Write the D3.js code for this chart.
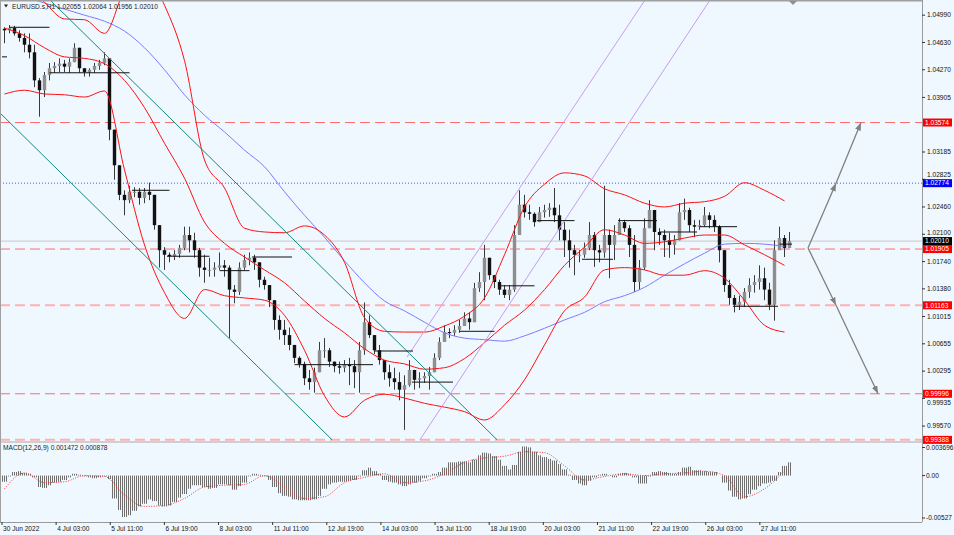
<!DOCTYPE html>
<html>
<head>
<meta charset="utf-8">
<script src="https://cdn.jsdelivr.net/npm/d3@7"></script>
<style>
body { margin: 0; background: #fff; }
</style>
</head>
<body>
<div id="chart"></div>
<script>
// ---- data (EURUSD, bars of ~3 hours) ----
var title = "EURUSD.s,H1  1.02055 1.02064 1.01956 1.02010";
var macdTitle = "MACD(12,26,9) 0.001472 0.000878";

var timeLabels = ["30 Jun 2022","4 Jul 03:00","5 Jul 11:00","6 Jul 19:00","8 Jul 03:00","11 Jul 11:00","12 Jul 19:00",
  "14 Jul 03:00","15 Jul 11:00","18 Jul 19:00","20 Jul 03:00","21 Jul 11:00","22 Jul 19:00","26 Jul 03:00","27 Jul 11:00"];

var priceTicks = [1.0499, 1.0463, 1.0427, 1.03905, 1.03185, 1.02825, 1.0246, 1.021, 1.0174, 1.0138,
  1.01015, 1.00655, 1.00295, 0.99935, 0.9957];
var macdTicks = [0.003696, 0, -0.00527];
var macdTickLabels = ["0.003696", "0.00", "-0.00527"];

var firstOpen = 1.0481;
var highs = [
  1.0483,1.0486,1.0485,1.0479,1.0475,1.0475,1.0460,1.0416,1.0424,1.0436,
  1.0437,1.0442,1.0440,1.0442,1.0462,1.0456,1.0429,1.0429,1.0436,1.0440,
  1.0450,1.0442,1.0348,1.0301,1.0268,1.0274,1.0272,1.0271,1.0271,1.0278,
  1.0262,1.0222,1.0193,1.0186,1.0189,1.0196,1.0220,1.0220,1.0212,1.0192,
  1.0183,1.0179,1.0173,1.0186,1.0176,1.0169,1.0143,1.0173,1.0183,1.0186,
  1.0183,1.0173,1.0154,1.0143,1.0123,1.0103,1.0097,1.0087,1.0064,1.0049,
  1.0042,1.0031,1.0034,1.0068,1.0073,1.0060,1.0042,1.0042,1.0044,1.0047,
  1.0044,1.0068,1.0120,1.0103,1.0077,1.0064,1.0044,1.0038,1.0034,1.0028,
  1.0024,1.0044,1.0031,1.0028,1.0028,1.0035,1.0053,1.0074,1.0090,1.0086,
  1.0090,1.0097,1.0107,1.0107,1.0146,1.0160,1.0196,1.0173,1.0156,1.0150,
  1.0143,1.0143,1.0222,1.0268,1.0262,1.0249,1.0239,1.0246,1.0249,1.0251,
  1.0271,1.0249,1.0226,1.0216,1.0196,1.0189,1.0199,1.0226,1.0213,1.0196,
  1.0274,1.0216,1.0222,1.0231,1.0229,1.0222,1.0209,1.0176,1.0231,1.0255,
  1.0242,1.0218,1.0216,1.0212,1.0209,1.0251,1.0257,1.0245,1.0229,1.0229,
  1.0246,1.0239,1.0235,1.0222,1.0189,1.0150,1.0130,1.0129,1.0139,1.0152,
  1.0156,1.0169,1.0166,1.0146,1.0202,1.0220,1.0209,1.0213];
var lows = [
  1.0462,1.0475,1.0472,1.0464,1.0450,1.0442,1.0404,1.0365,1.0391,1.0413,
  1.0423,1.0424,1.0424,1.0423,1.0437,1.0423,1.0418,1.0418,1.0423,1.0427,
  1.0433,1.0334,1.0282,1.0255,1.0235,1.0251,1.0259,1.0249,1.0251,1.0255,
  1.0216,1.0166,1.0163,1.0173,1.0176,1.0179,1.0189,1.0186,1.0179,1.0154,
  1.0146,1.0154,1.0154,1.0163,1.0154,1.0073,1.0119,1.0130,1.0163,1.0169,
  1.0163,1.0140,1.0137,1.0114,1.0084,1.0071,1.0064,1.0057,1.0040,1.0034,
  1.0011,1.0005,1.0001,1.0028,1.0047,1.0035,1.0028,1.0026,1.0028,1.0011,
  1.0007,1.0001,1.0051,1.0073,1.0052,1.0038,1.0018,1.0009,1.0005,0.9991,
  0.9952,1.0009,1.0005,1.0007,1.0014,1.0005,1.0028,1.0044,1.0073,1.0073,
  1.0076,1.0080,1.0090,1.0084,1.0103,1.0134,1.0123,1.0150,1.0139,1.0130,
  1.0126,1.0123,1.0134,1.0209,1.0232,1.0229,1.0220,1.0226,1.0232,1.0233,
  1.0226,1.0202,1.0180,1.0166,1.0156,1.0173,1.0179,1.0189,1.0167,1.0173,
  1.0179,1.0152,1.0176,1.0209,1.0213,1.0180,1.0134,1.0137,1.0163,1.0218,
  1.0189,1.0196,1.0180,1.0179,1.0183,1.0202,1.0229,1.0213,1.0206,1.0216,
  1.0220,1.0218,1.0213,1.0173,1.0134,1.0117,1.0107,1.0110,1.0114,1.0126,
  1.0133,1.0137,1.0123,1.0110,1.0096,1.0189,1.0180,1.0195];
var closes = [
  1.0479,1.0482,1.0475,1.0469,1.0460,1.0450,1.0413,1.0400,1.0420,1.0429,
  1.0432,1.0435,1.0431,1.0437,1.0456,1.0429,1.0424,1.0427,1.0432,1.0436,
  1.0442,1.0348,1.0301,1.0262,1.0255,1.0266,1.0266,1.0258,1.0266,1.0262,
  1.0222,1.0189,1.0183,1.0181,1.0184,1.0192,1.0209,1.0202,1.0189,1.0166,
  1.0163,1.0163,1.0166,1.0169,1.0166,1.0137,1.0134,1.0166,1.0176,1.0179,
  1.0173,1.0150,1.0143,1.0123,1.0097,1.0084,1.0077,1.0064,1.0047,1.0039,
  1.0020,1.0015,1.0028,1.0057,1.0057,1.0042,1.0036,1.0034,1.0038,1.0036,
  1.0028,1.0057,1.0094,1.0077,1.0057,1.0044,1.0028,1.0020,1.0015,1.0005,
  1.0011,1.0031,1.0018,1.0020,1.0023,1.0028,1.0047,1.0068,1.0081,1.0080,
  1.0084,1.0089,1.0099,1.0094,1.0139,1.0147,1.0179,1.0156,1.0147,1.0137,
  1.0130,1.0137,1.0209,1.0249,1.0239,1.0237,1.0226,1.0239,1.0242,1.0245,
  1.0235,1.0216,1.0202,1.0189,1.0183,1.0183,1.0192,1.0209,1.0189,1.0186,
  1.0209,1.0196,1.0209,1.0226,1.0218,1.0196,1.0147,1.0166,1.0218,1.0242,
  1.0213,1.0209,1.0202,1.0196,1.0202,1.0239,1.0242,1.0222,1.0220,1.0222,
  1.0235,1.0229,1.0220,1.0189,1.0143,1.0126,1.0117,1.0121,1.0134,1.0143,
  1.0147,1.0152,1.0137,1.0117,1.0189,1.0205,1.0192,1.0201];

// indicator lines, one value every 4 bars
var indStep = 4;
var bbUpper = [1.0569,1.0543,1.0516,1.0494,1.0493,1.0475,1.0532,1.0557,1.0512,1.0439,
  1.0308,1.0271,1.0218,1.0213,1.0212,1.0221,1.0209,1.0173,1.0100,1.0082,
  1.0081,1.0081,1.0089,1.0102,1.0126,1.0183,1.0246,1.0276,1.0291,1.0287,
  1.0270,1.0262,1.0251,1.0246,1.0251,1.0253,1.0260,1.0278,1.0268,1.0254];
var bbMiddle = [1.0482,1.0472,1.0456,1.0444,1.0442,1.0435,1.0413,1.0377,1.0330,1.0284,
  1.0226,1.0198,1.0180,1.0163,1.0146,1.0122,1.0099,1.0080,1.0059,1.0044,
  1.0039,1.0032,1.0034,1.0046,1.0067,1.0090,1.0110,1.0137,1.0169,1.0193,
  1.0216,1.0209,1.0198,1.0200,1.0205,1.0209,1.0209,1.0196,1.0183,1.0169];
var bbLower = [1.0395,1.0400,1.0395,1.0394,1.0391,1.0399,1.0295,1.0196,1.0133,1.0099,
  1.0137,1.0129,1.0126,1.0123,1.0103,1.0057,0.9997,0.9969,0.9991,0.9999,
  0.9994,0.9987,0.9982,0.9976,0.9965,0.9985,1.0018,1.0064,1.0109,1.0127,
  1.0163,1.0166,1.0163,1.0156,1.0156,1.0162,1.0152,1.0123,1.0090,1.0081];
var maSlow = [1.0535,1.0524,1.0515,1.0507,1.0499,1.0491,1.0478,1.0456,1.0427,1.0394,
  1.0367,1.0345,1.0321,1.0299,1.0266,1.0235,1.0206,1.0175,1.0146,1.0122,
  1.0109,1.0094,1.0080,1.0073,1.0071,1.0069,1.0076,1.0086,1.0097,1.0107,
  1.0121,1.0129,1.0140,1.0156,1.0171,1.0185,1.0197,1.0198,1.0197,1.0194];

var macdHist = [
  -0.0007,-0.0001,0.0004,0.0005,0.0003,0.0002,-0.0002,-0.0013,-0.0014,-0.0011,
  -0.0008,-0.0007,-0.0005,-0.0002,0.0002,0.0001,-0.0001,-0.0002,-0.0003,-0.0002,
  -0.0001,-0.0004,-0.0026,-0.0039,-0.0047,-0.0045,-0.0040,-0.0035,-0.0032,-0.0027,
  -0.0029,-0.0034,-0.0035,-0.0034,-0.0030,-0.0025,-0.0021,-0.0015,-0.0011,-0.0011,
  -0.0013,-0.0015,-0.0014,-0.0010,-0.0010,-0.0011,-0.0016,-0.0012,-0.0008,-0.0001,
  0.0002,0.0001,-0.0001,-0.0005,-0.0013,-0.0020,-0.0023,-0.0024,-0.0027,-0.0028,
  -0.0028,-0.0028,-0.0027,-0.0023,-0.0015,-0.0010,-0.0008,-0.0007,-0.0007,-0.0006,
  -0.0005,-0.0001,0.0006,0.0009,0.0005,0.0002,-0.0005,-0.0007,-0.0008,-0.0010,
  -0.0012,-0.0010,-0.0008,-0.0006,-0.0003,-0.0001,0.0002,0.0004,0.0009,0.0015,
  0.0015,0.0016,0.0016,0.0015,0.0018,0.0023,0.0026,0.0025,0.0022,0.0018,
  0.0011,0.0007,0.0012,0.0027,0.0033,0.0032,0.0027,0.0023,0.0021,0.0019,
  0.0017,0.0013,0.0007,0.0001,-0.0005,-0.0009,-0.0011,-0.0006,-0.0002,0.0001,
  0.0002,0.0000,-0.0002,0.0002,0.0003,0.0002,-0.0002,-0.0009,-0.0009,-0.0001,
  0.0004,0.0005,0.0004,0.0003,0.0002,0.0004,0.0009,0.0010,0.0006,0.0006,
  0.0005,0.0004,0.0004,0.0000,-0.0008,-0.0017,-0.0024,-0.0027,-0.0026,-0.0021,
  -0.0016,-0.0012,-0.0009,-0.0008,-0.0006,0.0004,0.0011,0.0015];
var macdSignal = [-0.0015,0.0003,-0.0008,-0.0007,0.0000,-0.0001,-0.0022,-0.0035,-0.0034,-0.0026,
  -0.0013,-0.0011,-0.0010,0.0000,-0.0013,-0.0026,-0.0024,-0.0008,-0.0002,0.0002,
  -0.0008,-0.0006,0.0002,0.0015,0.0020,0.0022,0.0027,0.0026,0.0011,-0.0005,
  -0.0001,0.0002,0.0000,0.0002,0.0003,0.0005,0.0000,-0.0024,-0.0015,0.0005];

// horizontal levels
var redLevels = [1.03574, 1.01905, 0.99996];
var paleLevels = [1.01163, 0.99388];
var blueLevels = [1.02774];
var lastPrice = 1.02010;

// short black pivot segments: price, first bar, last bar
var pivotPrice = [1.0483,1.0444,1.0423,1.0268,1.0181,1.0162,1.0180,1.0038,1.0056,1.0015,
  1.0082,1.0142,1.0228,1.0177,1.0228,1.0213,1.0220,1.0115,1.0197];
var pivotFrom = [1,-0.5,9,25.5,32.5,43,49.5,58,74,81.5,91,99,106.5,115.5,122.7,131,139,145.7,155];
var pivotTo = [9,0.5,25,33,41,49,57.5,73.7,81.7,89.7,98,106,114,121.7,130.5,138.5,146.5,154.7,157.5];

// trend lines as [bar, price] anchors
var tealLines = [[[-0.9, 1.0370], [65.5, 0.9939]], [[9.1, 1.0519], [98.5, 0.9939]]];
var purpleLines = [[[80.5, 1.0048], [128.1, 1.0519]], [[83.1, 0.9939], [141.1, 1.0519]]];
var arrowUp = [[160.7, 1.0192], [166.3, 1.02774], [171.3, 1.03574]];
var arrowDown = [[160.7, 1.0192], [166.3, 1.01163], [174.7, 0.99996]];

// ---- layout ----
var W = 954, H = 535;
var plotRight = 922, mainBottom = 441, macdTop = 443, macdBottom = 522;
var barHours = 467 / 158;
var fmt = d3.format(".5f");

var svg = d3.select("#chart").append("svg")
  .attr("width", W).attr("height", H)
  .style("font-family", "'Liberation Sans', Arial, sans-serif")
  .style("font-size", "6.6px");

var defs = svg.append("defs");
defs.append("clipPath").attr("id", "clipMain").append("rect")
  .attr("x", 0).attr("y", 0).attr("width", plotRight).attr("height", mainBottom);
defs.append("clipPath").attr("id", "clipMacd").append("rect")
  .attr("x", 0).attr("y", macdTop).attr("width", plotRight).attr("height", macdBottom - macdTop);
var pat = defs.append("pattern").attr("id", "stripes")
  .attr("patternUnits", "userSpaceOnUse").attr("width", 2).attr("height", 10);
pat.append("rect").attr("x", 0).attr("y", 0).attr("width", 1).attr("height", 10).attr("fill", "#6e6e6e");
defs.append("marker").attr("id", "arrowHead")
  .attr("viewBox", "0 0 8 6").attr("refX", 8).attr("refY", 3)
  .attr("markerWidth", 8).attr("markerHeight", 6).attr("markerUnits", "userSpaceOnUse")
  .attr("orient", "auto")
  .append("path").attr("d", "M0,0L8,3L0,6Z").attr("fill", "#808080");

svg.append("rect").attr("width", W).attr("height", H).attr("fill", "#f0f8ff");

var x = d3.scaleLinear().domain([0, 467]).range([2, 792]);
var barX = function(j) { return x((j + 0.5) * barHours); };
var y = d3.scaleLinear().domain([0.99373, 1.0519]).range([mainBottom, 0]);
var ym = d3.scaleLinear().domain([-0.00527, 0.003696]).range([macdBottom, macdTop]);

var main = svg.append("g").attr("clip-path", "url(#clipMain)");
var macd = svg.append("g").attr("clip-path", "url(#clipMacd)");

// levels
main.append("line").attr("x1", 0).attr("x2", plotRight)
  .attr("y1", y(lastPrice)).attr("y2", y(lastPrice))
  .attr("stroke", "#c8c8c8");
main.selectAll(".redlvl").data(redLevels).enter().append("line")
  .attr("x1", 0).attr("x2", plotRight)
  .attr("y1", function(d) { return y(d); }).attr("y2", function(d) { return y(d); })
  .attr("stroke", "#ff6a6a").attr("stroke-dasharray", "10,5");
main.selectAll(".palelvl").data(paleLevels).enter().append("line")
  .attr("x1", 0).attr("x2", plotRight)
  .attr("y1", function(d) { return y(d); }).attr("y2", function(d) { return y(d); })
  .attr("stroke", "#ffb0b0").attr("stroke-width", 2).attr("stroke-dasharray", "10,5");
main.selectAll(".bluelvl").data(blueLevels).enter().append("line")
  .attr("x1", 0).attr("x2", plotRight)
  .attr("y1", function(d) { return y(d); }).attr("y2", function(d) { return y(d); })
  .attr("stroke", "#5050ff").attr("stroke-dasharray", "1,2");

// candles
var bars = closes.map(function(c, i) {
  return { i: i, o: i ? closes[i - 1] : firstOpen, h: highs[i], l: lows[i], c: c };
});
main.selectAll(".wick").data(bars).enter().append("line")
  .attr("x1", function(d) { return barX(d.i); }).attr("x2", function(d) { return barX(d.i); })
  .attr("y1", function(d) { return y(Math.max(d.h, d.o, d.c)); })
  .attr("y2", function(d) { return y(Math.min(d.l, d.o, d.c)); })
  .attr("stroke", "#3a3a3a");
main.selectAll(".body").data(bars).enter().append("rect")
  .attr("x", function(d) { return barX(d.i) - 1.7; }).attr("width", 3.4)
  .attr("y", function(d) { return y(Math.max(d.o, d.c)); })
  .attr("height", function(d) { return Math.max(1, Math.abs(y(d.o) - y(d.c))); })
  .attr("fill", function(d) { return d.c >= d.o ? "#8e8e8e" : "#111"; });

// indicators
var indLine = d3.line()
  .x(function(d, k) { return barX(k * indStep); })
  .y(function(d) { return y(d); })
  .curve(d3.curveMonotoneX);
main.append("path").attr("d", indLine(maSlow)).attr("fill", "none").attr("stroke", "#7b7bff");
[bbUpper, bbMiddle, bbLower].forEach(function(s) {
  main.append("path").attr("d", indLine(s)).attr("fill", "none").attr("stroke", "#ff1010");
});

// trend lines
var pt = d3.line().x(function(d) { return barX(d[0]); }).y(function(d) { return y(d[1]); });
tealLines.forEach(function(l) {
  main.append("path").attr("d", pt(l)).attr("stroke", "#138a7e").attr("fill", "none");
});
purpleLines.forEach(function(l) {
  main.append("path").attr("d", pt(l)).attr("stroke", "#c49cf0").attr("fill", "none");
});
[arrowUp, arrowDown].forEach(function(a) {
  for (var k = 0; k < a.length - 1; k++) {
    main.append("path").attr("d", pt([a[k], a[k + 1]]))
      .attr("stroke", "#808080").attr("stroke-width", 1.3).attr("fill", "none")
      .attr("marker-end", "url(#arrowHead)");
  }
});

// pivot segments
main.selectAll(".pivot").data(pivotPrice).enter().append("line")
  .attr("x1", function(d, i) { return barX(pivotFrom[i]); })
  .attr("x2", function(d, i) { return barX(pivotTo[i]); })
  .attr("y1", function(d) { return y(d); }).attr("y2", function(d) { return y(d); })
  .attr("stroke", "#111");

// MACD
macd.selectAll(".hist").data(macdHist).enter().append("rect")
  .attr("x", function(d, i) { return barX(i) - 2.5; }).attr("width", 5)
  .attr("y", function(d) { return Math.min(ym(d), ym(0)); })
  .attr("height", function(d) { return Math.abs(ym(d) - ym(0)); })
  .attr("fill", "url(#stripes)");
var sigLine = d3.line()
  .x(function(d, k) { return barX(k * indStep); })
  .y(function(d) { return ym(d); })
  .curve(d3.curveMonotoneX);
macd.append("path").attr("d", sigLine(macdSignal)).attr("fill", "none")
  .attr("stroke", "#ff3030").attr("stroke-dasharray", "1,1.5");

// frames
svg.append("line").attr("x1", 0).attr("x2", plotRight).attr("y1", 0.5).attr("y2", 0.5).attr("stroke", "#a0a0a0").attr("stroke-width", 2);
svg.append("line").attr("x1", 0.5).attr("x2", 0.5).attr("y1", 0).attr("y2", macdBottom).attr("stroke", "#a0a0a0");
svg.append("line").attr("x1", plotRight + 0.5).attr("x2", plotRight + 0.5).attr("y1", 0).attr("y2", macdBottom).attr("stroke", "#9a9a9a");
svg.append("line").attr("x1", 0).attr("x2", plotRight).attr("y1", 442).attr("y2", 442).attr("stroke", "#a8a8a8");
svg.append("line").attr("x1", 0).attr("x2", plotRight).attr("y1", macdBottom + 0.5).attr("y2", macdBottom + 0.5).attr("stroke", "#9a9a9a");
svg.append("path").attr("d", "M789,1L797,1L793,5Z").attr("fill", "#909090");

// titles
svg.append("path").attr("d", "M4,4.5L8,4.5L6,7.5Z").attr("fill", "#222");
svg.append("text").attr("x", 12).attr("y", 8.5).attr("fill", "#222").text(title);
svg.append("text").attr("x", 3).attr("y", 450).attr("fill", "#222").text(macdTitle);

// price axis; tick labels that sit on a price box are nudged clear of it
var boxPrices = redLevels.concat(paleLevels, blueLevels, [lastPrice]);
function tickLabelY(p) {
  var yy = y(p);
  boxPrices.forEach(function(b) {
    var d = yy - y(b);
    if (Math.abs(d) < 8.5) yy = y(b) + (d < 0 ? -8.5 : 8.5);
  });
  return yy;
}
var ax = svg.append("g");
ax.selectAll(".pt").data(priceTicks).enter().append("line")
  .attr("x1", plotRight).attr("x2", plotRight + 3)
  .attr("y1", function(d) { return y(d); }).attr("y2", function(d) { return y(d); })
  .attr("stroke", "#333");
ax.selectAll(".ptl").data(priceTicks).enter().append("text")
  .attr("x", plotRight + 5).attr("y", function(d) { return tickLabelY(d) + 2.3; })
  .attr("fill", "#111").text(function(d) { return fmt(d); });

function priceBox(p, color) {
  ax.append("rect").attr("x", plotRight + 1).attr("y", y(p) - 4).attr("width", 29).attr("height", 8).attr("fill", color);
  ax.append("text").attr("x", plotRight + 3).attr("y", y(p) + 2.3).attr("fill", "#fff").text(fmt(p));
}
redLevels.concat(paleLevels).forEach(function(p) { priceBox(p, "#ff0000"); });
blueLevels.forEach(function(p) { priceBox(p, "#0000ff"); });
priceBox(lastPrice, "#000");

// MACD axis
macdTicks.forEach(function(v, i) {
  var yy = Math.min(Math.max(ym(v), 447.5), 518);
  ax.append("line").attr("x1", plotRight).attr("x2", plotRight + 3).attr("y1", yy).attr("y2", yy).attr("stroke", "#333");
  ax.append("text").attr("x", plotRight + 4).attr("y", yy + 2.3).attr("fill", "#111").text(macdTickLabels[i]);
});

// time axis
var tx = svg.append("g");
tx.selectAll(".tt").data(timeLabels).enter().append("line")
  .attr("x1", function(d, k) { return x(k * 32); }).attr("x2", function(d, k) { return x(k * 32); })
  .attr("y1", macdBottom).attr("y2", macdBottom + 3).attr("stroke", "#333");
tx.selectAll(".ttl").data(timeLabels).enter().append("text")
  .attr("x", function(d, k) { return x(k * 32) + 1; }).attr("y", 531)
  .attr("fill", "#111").text(function(d) { return d; });
</script>
</body>
</html>
